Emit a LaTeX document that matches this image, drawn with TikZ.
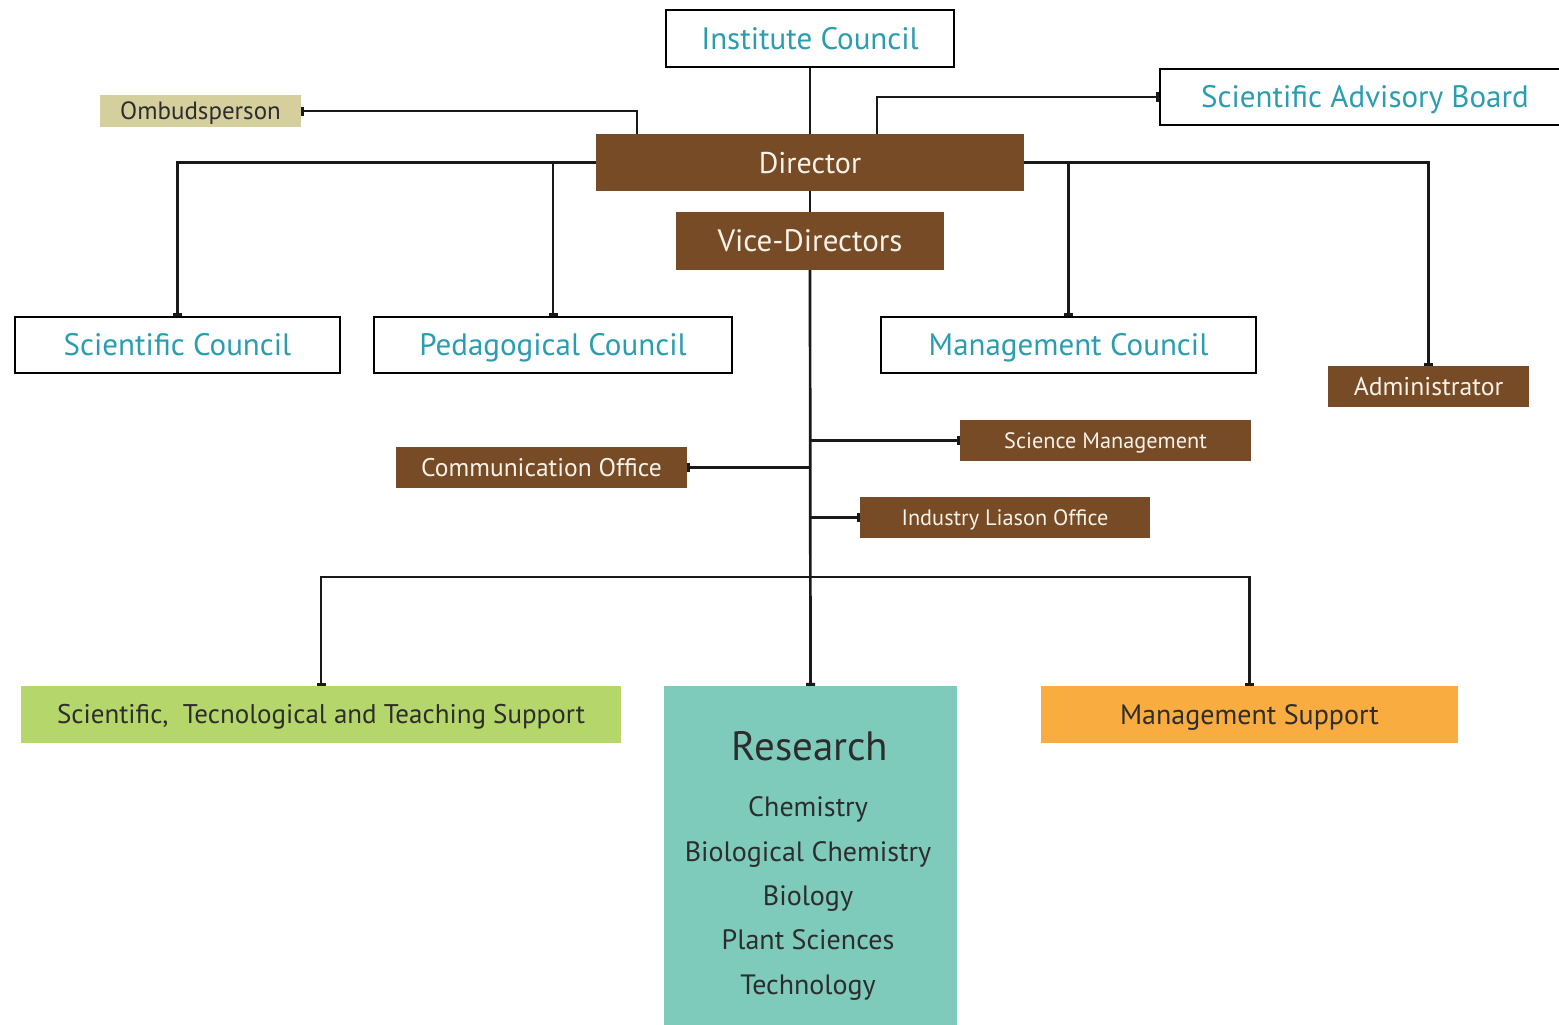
\documentclass[tikz,border=0pt]{standalone}
\usepackage{fontspec}
\setmainfont{PT Sans}
\usetikzlibrary{arrows.meta,positioning}
\definecolor{tealtxt}{RGB}{42,157,176}
\definecolor{brownbox}{RGB}{118,75,38}
\definecolor{khaki}{RGB}{213,207,158}
\definecolor{greenbox}{RGB}{181,214,106}
\definecolor{resbox}{RGB}{126,203,188}
\definecolor{orangebox}{RGB}{249,172,63}
\definecolor{darktxt}{RGB}{45,45,45}
\definecolor{creamtxt}{RGB}{248,242,232}
\newcommand{\fs}[1]{\fontsize{#1pt}{#1pt}\selectfont\rule[-0.3em]{0pt}{1.3em}}
\tikzset{
  council/.style={draw=black, line width=2.5pt, fill=white, text=tealtxt, inner sep=0pt, font=\fs{31}},
  brownnode/.style={fill=brownbox, text=creamtxt, inner sep=0pt},
  colnode/.style={inner sep=0pt, text=darktxt},
  line/.style={draw=black!90, line width=2.7pt},
  conn/.style={line, -{Rectangle[length=3pt,width=9pt]}},
  restxt/.style={text=darktxt, inner sep=0pt, font=\fs{28}}
}
\begin{document}
\begin{tikzpicture}[x=1pt,y=-1pt]
\useasboundingbox (0,0) rectangle (1559,1025);
% nodes
\node[council, minimum width=288pt, minimum height=57pt] (ic) at (810,38.5) {Institute Council};
\node[council, minimum width=410pt, minimum height=56pt] (sab) at (1365,97) {Scientific Advisory Board};
\node[colnode, fill=khaki, minimum width=201pt, minimum height=32pt, font=\fs{25}] (om) at (200.5,111) {Ombudsperson};
\node[brownnode, minimum width=428pt, minimum height=57pt, font=\fs{30}] (dir) at (810,162.5) {Director};
\node[brownnode, minimum width=268pt, minimum height=58pt, font=\fs{31}] (vd) at (810,241) {Vice-Directors};
\node[council, minimum width=325pt, minimum height=56pt] (sc) at (177.5,345) {Scientific Council};
\node[council, minimum width=358pt, minimum height=56pt] (pc) at (553,345) {Pedagogical Council};
\node[council, minimum width=375pt, minimum height=56pt] (mc) at (1068.5,345) {Management Council};
\node[brownnode, minimum width=201pt, minimum height=41pt, font=\fs{25.7}] (adm) at (1428.5,386.5) {Administrator};
\node[brownnode, minimum width=291pt, minimum height=41pt, font=\fs{22.3}] (sm) at (1105.5,440.5) {Science Management};
\node[brownnode, minimum width=291pt, minimum height=41pt, font=\fs{25.5}] (co) at (541.5,467.5) {Communication Office};
\node[brownnode, minimum width=290pt, minimum height=41pt, font=\fs{22.3}] (ilo) at (1005,517.5) {Industry Liason Office};
\node[colnode, fill=greenbox, minimum width=600pt, minimum height=57pt, font=\fs{27}] (sup) at (321,714.5) {Scientific,\ \ Tecnological and Teaching Support};
\node[fill=resbox, inner sep=0pt, minimum width=293pt, minimum height=345pt] (res) at (810.5,858.5) {};
\node[colnode, fill=orangebox, minimum width=417pt, minimum height=57pt, font=\fs{28}] (ms) at (1249.5,714.5) {Management Support};
% research texts
\node[restxt, font=\fs{41}] (rt) at (810,746) {Research};
\node[restxt] (r1) at (808,807) {Chemistry};
\node[restxt] (r2) at (808,852) {Biological Chemistry};
\node[restxt] (r3) at (808,896) {Biology};
\node[restxt] (r4) at (808,940) {Plant Sciences};
\node[restxt] (r5) at (808,985) {Technology};
% connectors
\draw[line] (ic.south) -- (dir.north);
\draw[line] (dir.south) -- (vd.north);
\draw[conn] ([xshift=-173pt]dir.north) |- (om.east);
\draw[conn] ([xshift=67pt]dir.north) |- (sab.west);
\draw[conn] (dir.west) -| (sc.north);
\draw[conn] (pc.north |- dir.west) -- (pc.north);
\draw[conn] (dir.east) -| (adm.north);
\draw[conn] (mc.north |- dir.east) -- (mc.north);
\draw[conn] (vd.south) -- (res.north);
\draw[conn] (vd.south |- sm.west) -- (sm.west);
\draw[conn] (vd.south |- co.east) -- (co.east);
\draw[conn] (vd.south |- ilo.west) -- (ilo.west);
\coordinate (hub) at (810,577);
\draw[conn] (hub) -| (sup.north);
\draw[conn] (hub) -| (ms.north);
\end{tikzpicture}
\end{document}
